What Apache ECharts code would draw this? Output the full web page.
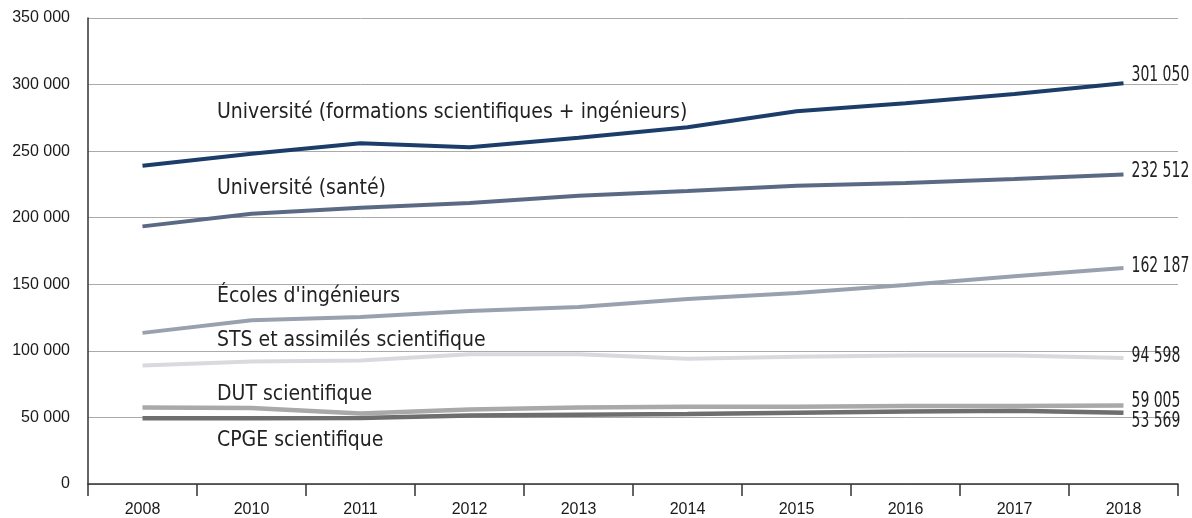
<!DOCTYPE html>
<html>
<head>
<meta charset="utf-8">
<script src="https://cdn.jsdelivr.net/npm/echarts@6/dist/echarts.min.js"></script>
<style>
html,body{margin:0;padding:0;background:#fff;}
#c{width:1192px;height:518px;}
</style>
</head>
<body>
<div id="c"></div>
<script>
const years = ['2008','2010','2011','2012','2013','2014','2015','2016','2017','2018'];
const univSci = [239000,248000,256000,253000,260000,268000,280000,286000,293000,301050];
const univSante = [193500,203000,207500,211000,216500,220000,224000,226000,229000,232512];
const ecoles = [113500,123000,125500,130000,133000,139000,143500,149500,156000,162187];
const sts = [89000,92000,92700,97500,97500,94000,95500,96500,96500,94598];
const dut = [57500,57000,53000,56000,57500,58000,58000,58500,58500,59005];
const cpge = [49300,49300,49500,51500,52000,52500,53500,54500,55000,53569];
const names = ['Université (formations scientifiques + ingénieurs)','Université (santé)',"Écoles d'ingénieurs",'STS et assimilés scientifique','DUT scientifique','CPGE scientifique'];

const fmt = v => String(Math.round(v)).replace(/\B(?=(\d{3})+(?!\d))/g, ' ');
const labelFont = 'DejaVu Sans Condensed';
const tickFont = 'Liberation Sans';

const seriesDefs = [
  {data: univSci, color: '#1c3d6a', width: 4, dy: -8},
  {data: univSante, color: '#5b6a84', width: 4, dy: -3},
  {data: ecoles, color: '#9aa1ae', width: 4, dy: -2},
  {data: sts, color: '#d9dadd', width: 4, dy: -2},
  {data: dut, color: '#a9a9a9', width: 4.5, dy: -4},
  {data: cpge, color: '#6e6e6e', width: 4.5, dy: 9}
];

const chart = echarts.init(document.getElementById('c'), null, {renderer: 'canvas'});
const labelPos = [[217,113],[217,189],[217,297],[217,341],[217,395],[217,441]];
chart.setOption({
  animation: false,
  backgroundColor: '#fff',
  grid: {left: 88, right: 14, top: 18, bottom: 31, containLabel: false},
  xAxis: {
    type: 'category', data: years, boundaryGap: true,
    axisLine: {lineStyle: {color: '#333', width: 1.5}},
    axisTick: {show: true, length: 12, lineStyle: {color: '#333', width: 1.5}},
    axisLabel: {color: '#1a1a1a', fontFamily: tickFont, fontSize: 16, margin: 18}
  },
  yAxis: {
    type: 'value', min: 0, max: 350000, interval: 50000,
    axisLine: {show: true, lineStyle: {color: '#333', width: 1.5}},
    axisTick: {show: false},
    splitLine: {lineStyle: {color: '#aaaaaa', width: 1}},
    axisLabel: {color: '#1a1a1a', fontFamily: tickFont, fontSize: 16, margin: 18,
      formatter: v => fmt(v)}
  },
  series: seriesDefs.slice().reverse().map((s, k) => ({
    name: names[seriesDefs.length - 1 - k], type: 'line', data: s.data, symbol: 'none',
    lineStyle: {color: s.color, width: s.width}, z: 3
  }))
});

const graphics = names.map((n, i) => ({
  type: 'text', x: labelPos[i][0], y: labelPos[i][1],
  style: {text: n, fill: '#222', fontFamily: labelFont, fontSize: 21, verticalAlign: 'middle'}
}));
seriesDefs.forEach(s => {
  const last = s.data.length - 1;
  const p = chart.convertToPixel({gridIndex: 0}, [last, s.data[last]]);
  graphics.push({
    type: 'text', x: p[0] + 8, y: p[1] + s.dy, scaleX: 0.74,
    style: {text: fmt(s.data[last]), fill: '#222', fontFamily: labelFont, fontSize: 21, verticalAlign: 'middle'}
  });
});
chart.setOption({graphic: graphics});
</script>
</body>
</html>
